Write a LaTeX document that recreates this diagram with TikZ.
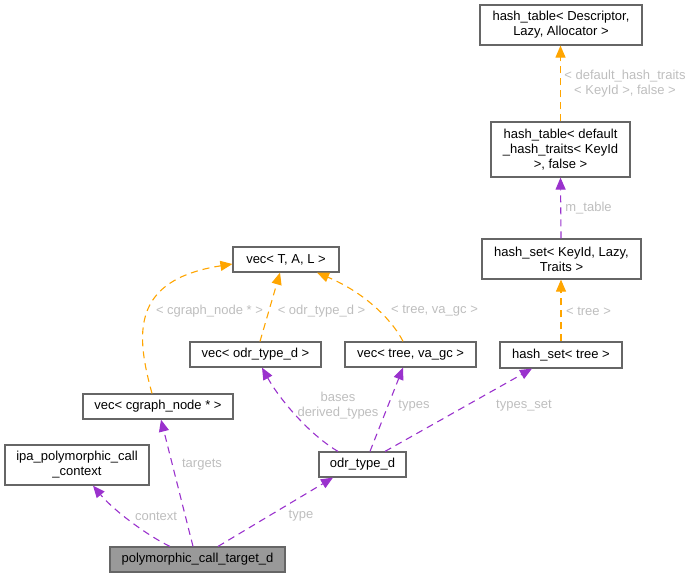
\documentclass[tikz,border=0pt]{standalone}
\usepackage{fontspec}
\setmainfont{Liberation Sans}
\usetikzlibrary{arrows.meta}
\definecolor{edgep}{HTML}{9A32CD}
\definecolor{edgeo}{HTML}{FFA500}
\definecolor{nodeb}{HTML}{666666}
\definecolor{lblc}{HTML}{BEBEBE}
\definecolor{focus}{HTML}{999999}
\begin{document}
\begin{tikzpicture}[x=1pt,y=-1pt,
  box/.style={draw=nodeb, line width=1.2pt, fill=white, inner sep=0pt, align=center,
    font=\fontsize{13}{15}\selectfont, text=black},
  lbl/.style={inner sep=0pt, align=center, text=lblc, font=\fontsize{13}{15}\selectfont},
  conn/.style={line width=1.1pt, dash pattern=on 7pt off 5pt,
    -{Triangle[length=12pt,width=10pt]}},
  pedge/.style={conn, draw=edgep},
  oedge/.style={conn, draw=edgeo}]
\useasboundingbox (0,0) rectangle (693,579);

% nodes
\node[box, fill=focus, minimum width=175pt, minimum height=25pt] (poly) at (197.5,559.5) {polymorphic\_call\_target\_d};
\node[box, minimum width=144pt, minimum height=40pt] (ipa) at (77,465) {ipa\_polymorphic\_call\\\_context};
\node[box, minimum width=150pt, minimum height=25pt] (vcg) at (158,406.5) {vec< cgraph\_node * >};
\node[box, minimum width=87pt, minimum height=25pt] (odr) at (362.5,464.5) {odr\_type\_d};
\node[box, minimum width=106pt, minimum height=25pt] (vtal) at (286,259.5) {vec< T, A, L >};
\node[box, minimum width=131pt, minimum height=25pt] (vodr) at (255.5,354.5) {vec< odr\_type\_d >};
\node[box, minimum width=131pt, minimum height=25pt] (vtree) at (410.5,354.5) {vec< tree, va\_gc >};
\node[box, minimum width=122pt, minimum height=26pt] (hstree) at (561,355) {hash\_set< tree >};
\node[box, minimum width=159pt, minimum height=40pt] (hskey) at (561.5,259) {hash\_set< KeyId, Lazy,\\Traits >};
\node[box, minimum width=139pt, minimum height=55pt] (htdef) at (560.5,149.5) {hash\_table< default\\\_hash\_traits< KeyId\\>, false >};
\node[box, minimum width=162pt, minimum height=40pt] (htdesc) at (561,25) {hash\_table< Descriptor,\\Lazy, Allocator >};

% purple edges
\draw[pedge] ([xshift=-27.5pt]poly.north) .. controls (150,537) and (115,512) .. ([xshift=16pt]ipa.south);
\draw[pedge] ([xshift=-4.5pt]poly.north) -- ([xshift=3pt]vcg.south);
\draw[pedge] ([xshift=20.5pt]poly.north) -- ([xshift=-29.5pt]odr.south);
\draw[pedge] ([xshift=-24.5pt]odr.north) .. controls (310,435) and (280,400) .. ([xshift=6.5pt]vodr.south);
\draw[pedge] ([xshift=7.5pt]odr.north) -- ([xshift=-7.5pt]vtree.south);
\draw[pedge] ([xshift=22.5pt]odr.north) -- ([xshift=-29pt]hstree.south);
\draw[pedge] ([xshift=-0.5pt]hskey.north) -- (htdef.south);

% orange edges
\draw[oedge] ([xshift=-6pt]vcg.north) .. controls (136,335) and (130,280) .. ([yshift=-4.5pt]vtal.west);
\draw[oedge] ([xshift=4.5pt]vodr.north) -- ([xshift=-6pt]vtal.south);
\draw[oedge] ([xshift=-7.5pt]vtree.north) .. controls (395,325) and (370,295) .. ([xshift=31pt]vtal.south);
\draw[oedge] (hstree.north) -- ([xshift=-0.5pt]hskey.south);
\draw[oedge] (htdef.north) -- ([xshift=-0.5pt]htdesc.south);

% labels
\node[lbl] (lcontext) at (156,516) {context};
\node[lbl] (ltargets) at (202,465) {targets};
\node[lbl] (ltype) at (301,516) {type};
\node[lbl] (lbases) at (338,405.5) {bases\\derived\_types};
\node[lbl] (ltypes) at (414,406) {types};
\node[lbl] (ltypesset) at (524,406) {types\_set};
\node[lbl] (lcg) at (209.5,311) {< cgraph\_node * >};
\node[lbl] (lodr) at (321.5,311) {< odr\_type\_d >};
\node[lbl] (ltree) at (434.5,311) {< tree, va\_gc >};
\node[lbl] (ltr) at (588.5,311) {< tree >};
\node[lbl] (lmt) at (588.5,208) {m\_table};
\node[lbl] (ldht) at (625,83.5) {< default\_hash\_traits\\< KeyId >, false >};
\end{tikzpicture}
\end{document}
